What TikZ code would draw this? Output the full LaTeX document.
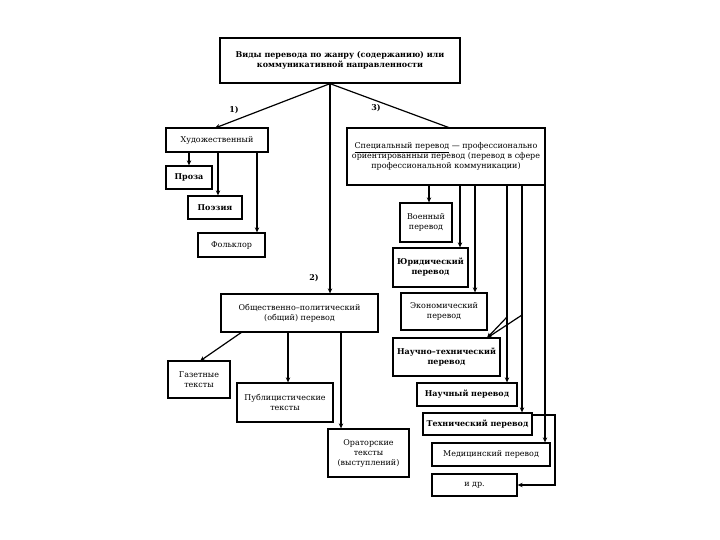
\documentclass[tikz,border=0pt]{standalone}
\usepackage{fontspec}
\setmainfont{DejaVu Serif}
\usetikzlibrary{arrows.meta,calc}
\tikzset{
  box/.style={draw=black, line width=1.3pt, align=center, inner sep=1pt, font=\fontsize{8}{10}\selectfont},
  bbox/.style={box, font=\fontsize{8}{10}\selectfont\bfseries},
  arr/.style={line width=1.2pt, -{Stealth[length=5pt,width=4.5pt]}},
  ln/.style={line width=1.2pt},
  lab/.style={font=\fontsize{8}{10}\selectfont\bfseries},
}
\begin{document}
\begin{tikzpicture}[x=1pt,y=-1pt]
\useasboundingbox (0,0) rectangle (720,540);
\fill[white] (0,0) rectangle (720,540);
% nodes
\node[bbox, minimum width=240, minimum height=45] (top) at (340,60.5) {Виды перевода по жанру (содержанию) или\\коммуникативной направленности};
\node[box, minimum width=102, minimum height=24] (hud) at (217,140) {Художественный};
\node[bbox, minimum width=46, minimum height=23] (proza) at (189,177.5) {Проза};
\node[bbox, minimum width=54, minimum height=23] (poez) at (215,207.5) {Поэзия};
\node[box, minimum width=67, minimum height=24] (folk) at (231.5,245) {Фольклор};
\node[box, minimum width=157, minimum height=38] (obsh) at (299.5,313) {Общественно–политический\\(общий) перевод};
\node[box, minimum width=62, minimum height=37] (gaz) at (199,379.5) {Газетные\\тексты};
\node[box, minimum width=96, minimum height=39] (publ) at (285,402.5) {Публицистические\\тексты};
\node[box, minimum width=81, minimum height=48] (orat) at (368.5,453) {Ораторские\\тексты\\(выступлений)};
\node[box, minimum width=198, minimum height=57] (spec) at (446,156.5) {\underline{Специальный перевод} — профессионально\\ориентированный перевод (перевод в сфере\\профессиональной коммуникации)};
\node[box, minimum width=52, minimum height=39] (voen) at (426,222.5) {Военный\\перевод};
\node[bbox, minimum width=75, minimum height=39] (yur) at (430.5,267.5) {Юридический\\перевод};
\node[box, minimum width=86, minimum height=37] (econ) at (444,311.5) {Экономический\\перевод};
\node[bbox, minimum width=107, minimum height=38] (nt) at (446.5,357) {Научно–технический\\перевод};
\node[bbox, minimum width=100, minimum height=23] (nauch) at (467,394.5) {Научный перевод};
\node[bbox, minimum width=109, minimum height=22] (tech) at (477.5,424) {Технический перевод};
\node[box, minimum width=118, minimum height=23] (med) at (491,454.5) {Медицинский перевод};
\node[box, minimum width=85, minimum height=22] (idr) at (474.5,485) {и др.};
% labels
\node[lab] (l1) at (234,110) {1)};
\node[lab] (l2) at (314,278) {2)};
\node[lab] (l3) at (376,108) {3)};
% helper coordinates
\coordinate (xa) at (330,0);
\coordinate (xh1) at (189,0);
\coordinate (xh2) at (218,0);
\coordinate (xh3) at (257,0);
\coordinate (xo1) at (288,0);
\coordinate (xo2) at (341,0);
\coordinate (xs1) at (429,0);
\coordinate (xs2) at (460,0);
\coordinate (xs3) at (475,0);
\coordinate (xs4) at (507,0);
\coordinate (xs5) at (522,0);
\coordinate (xs6) at (545,0);
\coordinate (xr) at (555,0);
\coordinate (ntin) at (487,338);
\coordinate (b1) at (507,317);
\coordinate (b2) at (522,315);
\coordinate (hudin) at (215,128);
\coordinate (specin) at (450,128);
\coordinate (gazout) at (242,332);
\coordinate (gazin) at (200,361);
% connectors from top
\draw[arr] (top.south -| xa) -- (hudin);
\draw[arr] (top.south -| xa) -- (obsh.north -| xa);
\draw[ln] (top.south -| xa) -- (specin);
% hud
\draw[arr] (hud.south -| xh1) -- (proza.north -| xh1);
\draw[arr] (hud.south -| xh2) -- (poez.north -| xh2);
\draw[arr] (hud.south -| xh3) -- (folk.north -| xh3);
% obsh
\draw[arr] (gazout) -- (gazin);
\draw[arr] (obsh.south -| xo1) -- (publ.north -| xo1);
\draw[arr] (obsh.south -| xo2) -- (orat.north -| xo2);
% spec
\draw[arr] (spec.south -| xs1) -- (voen.north -| xs1);
\draw[arr] (spec.south -| xs2) -- (yur.north -| xs2);
\draw[arr] (spec.south -| xs3) -- (econ.north -| xs3);
\draw[arr] (spec.south -| xs4) -- (nauch.north -| xs4);
\draw[arr] (spec.south -| xs5) -- (tech.north -| xs5);
\draw[arr] (spec.south -| xs6) -- (med.north -| xs6);
\draw[arr] (b1) -- (ntin);
\draw[arr] (b2) -- (ntin);
\draw[arr] ($(tech.east)+(0,-9)$) -| (xr |- idr.east) -- (idr.east);
\end{tikzpicture}
\end{document}
